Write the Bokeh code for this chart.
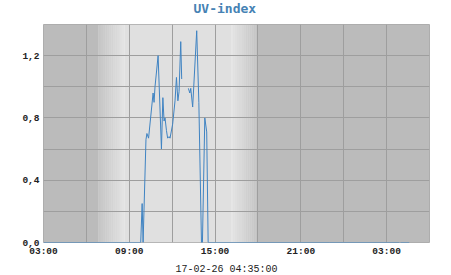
import math
from bokeh.plotting import figure
from bokeh.models import FixedTicker, Range1d, Title
from bokeh.embed import file_html
from bokeh.resources import INLINE

# ---- data ----
days = [16] * 41 + [17] * 4
times = ["03:00", "09:48", "09:54", "09:58", "10:10", "10:14", "10:21", "10:40", "10:44", "10:48",
         "11:01", "11:15", "11:21", "11:26", "11:30", "11:36", "11:41", "11:47", "11:51", "12:02",
         "12:12", "12:18", "12:24", "12:29", "12:36", "12:40", "12:50", "13:08", "13:14", "13:18",
         "13:26", "13:43", "13:52", "14:03", "14:07", "14:17", "14:25", "14:31", "18:00", "23:00",
         "23:59",
         "03:54", "03:56", "03:58", "04:35"]
uv = [0, 0, 0.25, 0, 0.66, 0.70, 0.67, 0.96, 0.90, 1.00,
      1.20, 0.60, 0.93, 0.78, 0.80, 0.72, 0.67, 0.68, 0.67, 0.76,
      0.91, 1.06, 0.91, 0.97, 1.29, 1.05, float("nan"), 0.99, 0.96, 0.99,
      0.87, 1.36, 0.90, 0, 0, 0.80, 0.71, 0, 0, 0,
      0,
      0, float("nan"), 0, 0]

x_tick_labels = ["03:00", "09:00", "15:00", "21:00", "03:00"]
y_tick_labels = ["0,0", "0,4", "0,8", "1,2"]
y_tick_values = [0.0, 0.4, 0.8, 1.2]
title_text = "UV-index"
stamp = "17-02-26 04:35:00"

# daylight: sunrise ramp and sunset ramp
sunrise = ("06:50", "08:40")
sunset = ("16:10", "18:00")

def to_h(day, t):
    hh, mm = t.split(":")
    return (day - 16) * 24 + int(hh) + int(mm) / 60.0

xs = [to_h(d, t) for d, t in zip(days, times)]
x_ticks = [3, 9, 15, 21, 27]

X0, X1, Y0, Y1 = 3, 30, 0, 1.4
NIGHT = (187, 187, 187)
DAY = (224, 224, 224)

p = figure(width=451, height=275, output_backend="svg", toolbar_location=None,
           x_range=Range1d(X0, X1), y_range=Range1d(Y0, Y1),
           min_border_left=43, min_border_right=22, min_border_top=24, min_border_bottom=33)

def spacer(st):
    return Title(text=" ", text_font_size="1px", standoff=st, text_color="white")

# above: spacer next to frame, then the title
p.add_layout(spacer(4), "above")
p.add_layout(Title(text=title_text, align="left", offset=150, vertical_align="top", standoff=0,
                   text_font="DejaVu Sans Mono", text_font_style="bold",
                   text_font_size="13px", text_color="#4682b4"), "above")

def mix(a, b, f):
    return "#%02x%02x%02x" % tuple(int(round(a[i] + (b[i] - a[i]) * f)) for i in range(3))

lefts, rights, cols = [], [], []
sr0, sr1 = to_h(16, sunrise[0]), to_h(16, sunrise[1])
ss0, ss1 = to_h(16, sunset[0]), to_h(16, sunset[1])
lefts += [X0]; rights += [sr0]; cols += [mix(NIGHT, DAY, 0)]
n = 40
for i in range(n):
    a = sr0 + (sr1 - sr0) * i / n
    b = sr0 + (sr1 - sr0) * (i + 1) / n
    lefts.append(a); rights.append(b + 0.01); cols.append(mix(NIGHT, DAY, (i + 0.5) / n))
lefts += [sr1]; rights += [ss0]; cols += [mix(NIGHT, DAY, 1)]
for i in range(n):
    a = ss0 + (ss1 - ss0) * i / n
    b = ss0 + (ss1 - ss0) * (i + 1) / n
    lefts.append(a); rights.append(b + 0.01); cols.append(mix(DAY, NIGHT, (i + 0.5) / n))
lefts += [ss1]; rights += [X1]; cols += [mix(NIGHT, DAY, 0)]
bg = p.quad(left=lefts, right=rights, bottom=Y0, top=Y1, fill_color=cols, line_color=None)
bg.level = "image"

p.line(xs, uv, line_color="#3f83c2", line_width=1)

p.xgrid.ticker = FixedTicker(ticks=list(range(3, 31, 3)))
p.ygrid.ticker = FixedTicker(ticks=[0.2, 0.4, 0.6, 0.8, 1.0, 1.2])
for g in (p.xgrid, p.ygrid):
    g.grid_line_color = "#9e9e9e"
    g.grid_line_width = 1
    g.level = "underlay"

p.outline_line_color = "#a8a8a8"
p.outline_line_width = 1

p.xaxis.ticker = FixedTicker(ticks=x_ticks)
p.xaxis.major_label_overrides = {t: l for t, l in zip(x_ticks, x_tick_labels)}
p.yaxis.ticker = FixedTicker(ticks=y_tick_values)
p.yaxis.major_label_overrides = {t: l for t, l in zip(y_tick_values, y_tick_labels)}
for ax in (p.xaxis, p.yaxis):
    ax.axis_line_color = None
    ax.major_tick_line_color = None
    ax.minor_tick_line_color = None
    ax.major_tick_out = 0
    ax.major_tick_in = 0
    ax.minor_tick_out = 0
    ax.minor_tick_in = 0
    ax.major_label_text_font = "Liberation Mono"
    ax.major_label_text_font_style = "bold"
    ax.major_label_text_font_size = "9.5px"
    ax.major_label_text_color = "#222222"
p.xaxis.major_label_standoff = 3
p.yaxis.major_label_standoff = 4

# below: axis (next to frame), spacer, then the time stamp
p.add_layout(spacer(3), "below")
p.add_layout(Title(text=stamp, align="left", offset=132, vertical_align="bottom", standoff=-8,
                   text_font="Liberation Mono", text_font_style="normal",
                   text_font_size="10px", text_color="#222222"), "below")

p.background_fill_color = "white"
p.border_fill_color = "white"

open("out.html", "w").write(file_html(p, INLINE))
